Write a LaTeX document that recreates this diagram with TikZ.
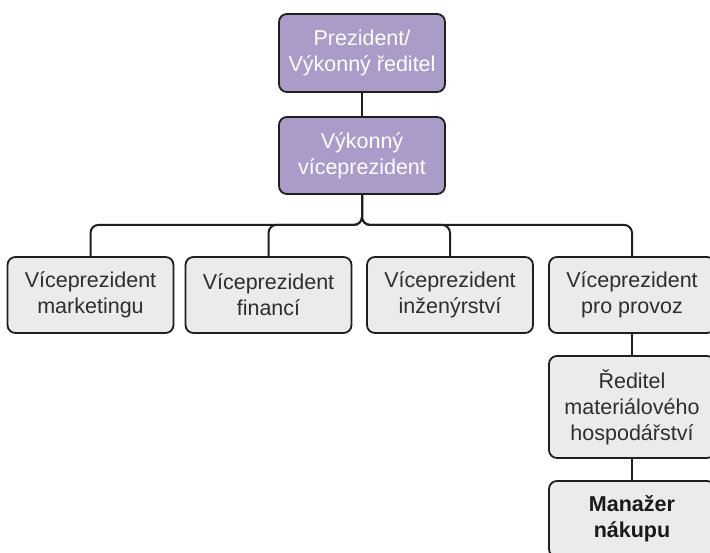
\documentclass[tikz,border=0pt]{standalone}
\usepackage{fontspec}
\setmainfont{Liberation Sans}
\begin{document}
\begin{tikzpicture}[x=1pt,y=-1pt,
  box/.style={draw=black!88, line width=1.8pt, rounded corners=8pt,
    minimum width=166pt, align=center, inner sep=0pt,
    font=\fontsize{21.5}{26}\selectfont},
  exec/.style={box, fill=lead, text=white, minimum height=77pt},
  staff/.style={box, fill=paper, text=black!82, minimum height=76pt},
  link/.style={draw=black!88, line width=2pt, rounded corners=8pt}]
\definecolor{lead}{HTML}{AB9BC9}
\definecolor{paper}{HTML}{EBEBEB}
\useasboundingbox (0,0) rectangle (710,552);
\clip (0,0) rectangle (710,552);

% executive chain
\node[exec, minimum height=78pt] (pres) at (362,53) {Prezident/\\Výkonný ředitel};
\node[exec] (evp) at (362,155.5) {Výkonný\\víceprezident};

% vice presidents
\node[staff] (mkt) at (90.5,295) {Víceprezident\\marketingu};
\node[staff] (fin) at (268.5,295) {Víceprezident\\financí};
\node[staff] (eng) at (450,295) {Víceprezident\\inženýrství};
\node[staff] (ops) at (632,295) {Víceprezident\\pro provoz};

% operations line
\node[staff, minimum height=102pt] (mat) at (632,407) {Ředitel\\materiálového\\hospodářství};
\node[staff, text=black!90] (buy) at (632,519) {\textbf{Manažer}\\\textbf{nákupu}};

% connectors
\draw[link] (pres.south) -- (evp.north);
\foreach \t in {mkt,fin,eng,ops}
  \draw[link] (evp.south) -- ++(0,30) -| (\t.north);
\draw[link] (ops.south) -- (mat.north);
\draw[link] (mat.south) -- (buy.north);
\end{tikzpicture}
\end{document}
